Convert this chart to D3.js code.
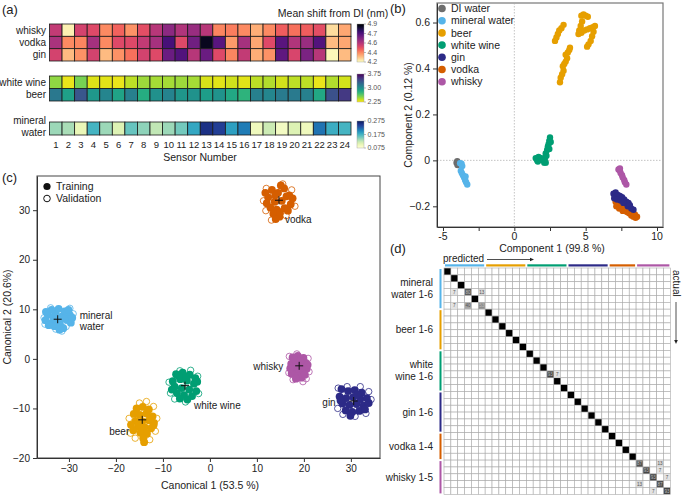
<!DOCTYPE html>
<html lang="en">
<head>
<meta charset="UTF-8">
<title>sensor array figure</title>
<style>
    body{margin:0;background:#fff;}
    svg{display:block;font-family:"Liberation Sans",Arial,Helvetica,sans-serif;}
    text{fill:#222;}
    .axis path,.axis line{stroke:#333;}
    .axis text{fill:#222;font-family:"Liberation Sans",Arial,sans-serif;}
</style>
</head>
<body>
<svg id="fig" width="683" height="496"></svg>
<script src="https://d3js.org/d3.v7.min.js"></script>
<script>
// ---------- (a) heatmap data: mean shift from DI (nm) per sensor ----------
const sensors = [1,2,3,4,5,6,7,8,9,10,11,12,13,14,15,16,17,18,19,20,21,22,23,24];
const spiritNames = ["whisky","vodka","gin"];
const whisky = [4.53,4.22,4.50,4.48,4.37,4.43,4.36,4.47,4.55,4.62,4.56,4.60,4.55,4.38,4.39,4.37,4.32,4.37,4.44,4.41,4.44,4.47,4.25,4.33];
const vodka  = [4.57,4.37,4.38,4.58,4.37,4.48,4.48,4.53,4.58,4.74,4.48,4.67,4.86,4.71,4.35,4.58,4.33,4.48,4.71,4.56,4.60,4.72,4.30,4.33];
const gin    = [4.50,4.30,4.36,4.50,4.30,4.36,4.41,4.50,4.48,4.68,4.72,4.55,4.68,4.48,4.38,4.53,4.32,4.36,4.70,4.49,4.65,4.55,4.21,4.30];
const wbNames = ["white wine","beer"];
const whiteWine = [2.50,2.30,2.56,2.33,2.32,2.30,2.40,2.47,2.45,2.45,2.47,2.45,2.34,2.32,2.36,2.32,2.40,2.42,2.35,2.40,2.40,2.30,2.42,2.35];
const beerRow   = [3.15,2.90,3.35,2.95,3.07,2.88,3.10,2.82,3.00,3.08,2.96,2.99,2.92,2.98,2.85,2.78,3.10,3.06,3.13,3.14,3.10,2.85,3.38,3.50];
const mineralRow = [0.140,0.135,0.100,0.175,0.140,0.110,0.160,0.145,0.125,0.140,0.155,0.185,0.255,0.245,0.190,0.210,0.095,0.120,0.090,0.110,0.095,0.215,0.180,0.175];
const spiritTicks = [4.2,4.375,4.55,4.725,4.9];
const spiritTickLabels = ["4.2","4.4","4.6","4.7","4.9"];
const wbTicks = [2.25,3.0,3.75];
const wbTickLabels = ["2.25","3.00","3.75"];
const mwTicks = [0.075,0.175,0.275];
const mwTickLabels = ["0.075","0.175","0.275"];

// ---------- (b) PCA scores ----------
const pcaNames = ["DI water","mineral water","beer","white wine","gin","vodka","whisky"];
const pcaColors = ["#6d6d6d","#56b4e9","#e69f00","#009e73","#2c2a87","#d55e00","#ad57a6"];
const pcaDI = [[-4.05,-0.01],[-3.98,-0.02],[-3.92,-0.012],[-4.0,-0.004]];
const pcaMineral = [[-3.8,-0.012],[-3.7,-0.015],[-3.65,-0.025],[-3.75,-0.045],[-3.68,-0.055],[-3.6,-0.065],[-3.52,-0.075],[-3.45,-0.085],[-3.38,-0.095],[-3.3,-0.105],[-3.42,-0.07]];
const pcaBeer = [[2.85,0.52],[2.95,0.535],[3.05,0.55],[3.15,0.565],[3.3,0.575],[3.45,0.59],
    [4.7,0.63],[4.85,0.635],[5.0,0.63],[5.15,0.625],[4.75,0.605],[4.65,0.585],[4.55,0.565],[4.5,0.55],
    [4.7,0.555],[4.9,0.565],[5.1,0.57],[5.3,0.575],[5.5,0.58],[5.65,0.585],[5.55,0.56],[5.45,0.54],
    [5.35,0.52],[5.2,0.505],[5.1,0.495],
    [3.2,0.34],[3.25,0.36],[3.35,0.375],[3.45,0.39],[3.4,0.41],[3.5,0.42],[3.6,0.43],[3.7,0.445],
    [3.6,0.46],[3.75,0.47],[3.85,0.48],[3.9,0.49]];
const pcaWine = [[1.5,0.01],[1.6,0.0],[1.7,0.015],[1.8,0.005],[1.9,0.01],[2.0,0.0],[1.65,-0.005],[2.1,-0.01],
    [2.15,0.01],[2.2,0.03],[2.25,0.02],[2.3,0.045],[2.35,0.06],[2.4,0.07],[2.45,0.085],[2.5,0.1],
    [2.55,0.08],[2.45,0.05],[2.2,-0.01]];
const pcaVodka = [[7.1,-0.18],[7.15,-0.2],[7.3,-0.19],[7.35,-0.21],[7.55,-0.2],[7.6,-0.22],[7.75,-0.215],[7.9,-0.225],
    [8.05,-0.23],[8.2,-0.24],[8.35,-0.245],[8.5,-0.25],[8.6,-0.245],[8.45,-0.235]];
const pcaGin = [[6.95,-0.145],[7.1,-0.14],[7.25,-0.15],[7.4,-0.155],[7.55,-0.16],[7.0,-0.165],[7.2,-0.17],[7.45,-0.175],
    [7.7,-0.17],[7.85,-0.18],[8.0,-0.185],[7.65,-0.185],[7.95,-0.2],[8.1,-0.195],[8.2,-0.21],[8.35,-0.215]];
const pcaWhisky = [[7.3,-0.04],[7.4,-0.045],[7.45,-0.055],[7.55,-0.065],[7.6,-0.075],[7.7,-0.085],[7.75,-0.095],[7.85,-0.105],[7.4,-0.035]];
const pcaXTicks = [-5,-2.5,0,2.5,5,7.5,10];
const pcaXLabelled = [-5,0,5,10];
const pcaYTicks = [-0.2,0,0.2,0.4,0.6];

// ---------- (c) canonical scores ----------
const ldaNames = ["mineral water","vodka","whisky","white wine","gin","beer"];
const ldaColors = ["#56b4e9","#d55e00","#ad57a6","#009e73","#2c2a87","#e69f00"];
const ldaCentroids = [[-32.4,8.0],[14.7,32.0],[19.0,-1.4],[-5.3,-5.4],[30.6,-8.5],[-14.4,-12.3]];
const trainMineral = [[-34.5,8.9],[-33.8,7.2],[-32.9,9.4],[-31.6,8.5],[-30.4,7.9],[-29.8,8.8],[-33.1,6.6],[-31.9,6.9],[-35.0,7.8],[-32.2,10.1],[-30.9,9.6],[-33.7,9.9],[-29.6,7.3],[-31.2,6.2],[-34.3,6.8],[-32.6,7.8],[-30.1,9.9],[-33.3,8.4],[-31.0,8.1],[-32.0,5.9],[-34.9,9.5],[-29.3,8.3]];
const valMineral = [[-35.3,8.3],[-31.5,5.6],[-29.1,9.1],[-33.9,10.3],[-30.6,6.5],[-32.8,6.0],[-35.1,7.0],[-29.8,10.2]];
const trainVodka = [[13.2,34.1],[14.5,33.5],[15.8,34.4],[16.9,33.0],[12.4,32.6],[13.8,31.7],[15.3,31.9],[17.2,31.2],[12.9,30.5],[14.2,30.1],[15.9,30.4],[13.5,29.3],[14.8,28.7],[16.3,32.8],[12.1,31.4],[15.1,35.0],[13.9,33.0],[16.6,29.9],[14.0,28.2],[17.6,32.4],[11.8,33.5],[14.9,29.6]];
const valVodka = [[12.0,34.4],[17.4,34.1],[11.4,31.9],[18.1,30.8],[16.2,28.9],[13.1,28.0],[15.5,35.3],[11.9,29.9]];
const trainWhisky = [[17.6,0.3],[18.7,0.6],[19.9,0.2],[20.4,-0.8],[17.3,-1.0],[18.4,-1.2],[19.6,-1.6],[20.6,-2.0],[17.8,-2.2],[18.9,-2.6],[19.8,-2.9],[17.4,-3.0],[18.6,-3.5],[19.5,-3.8],[20.2,-3.2],[18.0,-0.1],[19.2,-0.4],[17.1,-1.9],[20.8,-1.2],[18.3,-4.0]];
const valWhisky = [[16.9,0.5],[20.9,0.1],[21.1,-2.6],[16.8,-2.8],[19.8,-4.6],[17.7,-4.2],[18.5,1.0],[20.5,-4.0]];
const trainWine = [[-7.2,-3.1],[-5.8,-2.8],[-4.3,-3.2],[-3.1,-3.9],[-7.9,-4.5],[-6.3,-4.1],[-4.9,-4.4],[-3.4,-5.0],[-7.5,-5.6],[-6.0,-5.9],[-4.4,-6.2],[-2.9,-6.5],[-7.0,-6.9],[-5.5,-7.3],[-3.8,-7.5],[-6.4,-8.0],[-4.8,-8.2],[-8.1,-6.2],[-5.1,-3.6],[-2.7,-4.6],[-6.7,-3.4]];
const valWine = [[-8.7,-4.7],[-8.4,-6.9],[-5.2,-8.7],[-2.4,-7.0],[-2.6,-3.5],[-6.4,-2.4],[-4.1,-2.3],[-7.5,-8.1]];
const trainGin = [[28.0,-6.1],[29.4,-6.5],[30.8,-6.3],[32.3,-6.8],[27.6,-7.6],[29.0,-7.9],[30.5,-7.7],[32.0,-8.1],[33.4,-7.9],[28.2,-9.0],[29.7,-9.3],[31.2,-9.1],[32.7,-9.4],[33.8,-8.9],[28.9,-10.4],[30.3,-10.7],[31.8,-10.5],[29.9,-11.5],[27.8,-8.4],[31.4,-7.2],[33.0,-10.2]];
const valGin = [[27.3,-5.9],[29.2,-5.6],[32.0,-5.6],[33.8,-6.6],[34.3,-8.2],[33.2,-11.0],[27.2,-10.0],[30.9,-11.6],[28.3,-11.2]];
const trainBeer = [[-15.6,-10.0],[-14.3,-9.7],[-13.0,-10.2],[-16.2,-11.1],[-14.9,-11.3],[-13.5,-11.0],[-12.2,-11.6],[-15.8,-12.5],[-14.4,-12.6],[-13.0,-12.4],[-11.9,-12.9],[-15.3,-13.6],[-13.9,-13.8],[-12.5,-14.0],[-16.3,-14.4],[-14.8,-14.9],[-13.4,-15.1],[-14.2,-16.0],[-14.0,-16.8],[-16.8,-13.3],[-12.0,-13.4]];
const valBeer = [[-15.0,-8.9],[-13.5,-8.6],[-12.0,-9.6],[-17.2,-12.0],[-11.3,-12.0],[-11.6,-14.6],[-16.9,-15.0],[-15.9,-16.0],[-12.8,-16.3]];
const ldaXTicks = [-30,-20,-10,0,10,20,30];
const ldaYTicks = [-20,-10,0,10,20,30];

// ---------- (d) confusion matrix (percent, actual row / predicted col) ----------
const groupLabels = [["mineral","water 1-6"],["beer 1-6"],["white","wine 1-6"],["gin 1-6"],["vodka 1-4"],["whisky 1-5"]];
const groupSizes = [6,6,6,6,4,5];
const groupColors = ["#56b4e9","#e69f00","#009e73","#2c2a87","#d55e00","#ad57a6"];
const offDiag = [[3,1,7],[3,3,80],[3,5,13],[5,1,7],[5,3,40],[5,5,53],[15,15,93],[15,16,7],
    [28,28,87],[28,31,13],[29,29,93],[29,31,7],[30,30,93],[30,32,7],[31,28,13],[31,31,87],[32,30,7],[32,32,93]];

const svg = d3.select("#fig");
const defs = svg.append("defs");

// ================= panel (a) =================
const pa = svg.append("g");
pa.append("text").attr("x",2).attr("y",14).attr("font-size",13).text("(a)");

const xa = d3.scaleBand().domain(sensors).range([49.5,351]);
const cl = t => Math.max(0,Math.min(1,t));
const magmaCol = v => d3.interpolateMagma(cl(1-(v-4.2)/0.7));
const viridisCol = v => d3.interpolateViridis(cl(1-(v-2.25)/1.5));
const ylgnbuCol = v => d3.interpolateYlGnBu(cl((v-0.075)/0.2));

function heatRows(names, rows, y0, y1, col){
    const y = d3.scaleBand().domain(names).range([y0,y1]);
    names.forEach((n,i)=>{
        pa.append("g").selectAll("rect").data(rows[i]).join("rect")
            .attr("x",(d,j)=>xa(sensors[j])).attr("y",y(n))
            .attr("width",xa.bandwidth()).attr("height",y.bandwidth())
            .attr("fill",col).attr("stroke","#1a1a1a").attr("stroke-width",0.8);
    });
    return y;
}
const ya1 = heatRows(spiritNames,[whisky,vodka,gin],24,61,magmaCol);
const ya2 = heatRows(wbNames,[whiteWine,beerRow],76,101,viridisCol);
const ya3 = heatRows(["mineral water"],[mineralRow],122,135,ylgnbuCol);

spiritNames.forEach(n=>pa.append("text").attr("x",46).attr("y",ya1(n)+ya1.bandwidth()/2)
    .attr("dy","0.35em").attr("text-anchor","end").attr("font-size",10).text(n));
wbNames.forEach(n=>pa.append("text").attr("x",46).attr("y",ya2(n)+ya2.bandwidth()/2)
    .attr("dy","0.35em").attr("text-anchor","end").attr("font-size",10).text(n));
["mineral","water"].forEach((t,i)=>pa.append("text").attr("x",46).attr("y",120+i*12.7)
    .attr("dy","0.35em").attr("text-anchor","end").attr("font-size",10).text(t));

pa.append("g").selectAll("text").data(sensors).join("text")
    .attr("x",d=>xa(d)+xa.bandwidth()/2).attr("y",145).attr("dy","0.35em")
    .attr("text-anchor","middle").attr("font-size",9.5).text(d=>d);
pa.append("text").attr("x",200).attr("y",161).attr("text-anchor","middle").attr("font-size",10.5).text("Sensor Number");
pa.append("text").attr("x",333).attr("y",17).attr("text-anchor","middle").attr("font-size",10.5).text("Mean shift from DI (nm)");

function colorbar(id, col, y0, y1, domain, ticks, labels){
    const grad = defs.append("linearGradient").attr("id",id)
        .attr("x1",0).attr("y1",1).attr("x2",0).attr("y2",0);
    d3.range(0,1.0001,0.05).forEach(t=>grad.append("stop").attr("offset",t)
        .attr("stop-color",col(domain[0]+t*(domain[1]-domain[0]))));
    pa.append("rect").attr("x",357).attr("y",y0).attr("width",7).attr("height",y1-y0)
        .attr("fill",`url(#${id})`).attr("stroke","#999").attr("stroke-width",0.4);
    const s = d3.scaleLinear(domain,[y1,y0]);
    ticks.forEach((t,i)=>{
        pa.append("line").attr("x1",364).attr("x2",366).attr("y1",s(t)).attr("y2",s(t)).attr("stroke","#777").attr("stroke-width",0.5);
        pa.append("text").attr("x",367.5).attr("y",s(t)).attr("dy","0.35em")
            .attr("font-size",7).style("fill","#555").text(labels[i]);
    });
}
colorbar("cb1",magmaCol,24,62,[4.2,4.9],spiritTicks,spiritTickLabels);
colorbar("cb2",viridisCol,74,102,[2.25,3.75],wbTicks,wbTickLabels);
colorbar("cb3",ylgnbuCol,121,148,[0.075,0.275],mwTicks,mwTickLabels);

// ================= panel (b) =================
const pb = svg.append("g");
pb.append("text").attr("x",390).attr("y",13).attr("font-size",13).text("(b)");
const xb = d3.scaleLinear([-5.42,10.42],[437,663]);
const yb = d3.scaleLinear([-0.29,0.685],[227,3]);

pb.append("rect").attr("x",437).attr("y",3).attr("width",226).attr("height",224)
    .attr("fill","none").attr("stroke","#777").attr("stroke-width",1.2);
pb.append("line").attr("x1",xb(0)).attr("x2",xb(0)).attr("y1",3).attr("y2",227)
    .attr("stroke","#aaa").attr("stroke-width",0.7).attr("stroke-dasharray","1.5,1.5");
pb.append("line").attr("x1",437).attr("x2",663).attr("y1",yb(0)).attr("y2",yb(0))
    .attr("stroke","#aaa").attr("stroke-width",0.7).attr("stroke-dasharray","1.5,1.5");

const pcaSets = [pcaDI,pcaMineral,pcaBeer,pcaWine,pcaGin,pcaVodka,pcaWhisky];
const drawOrder = [0,1,2,3,5,4,6];
drawOrder.forEach(i=>{
    pb.append("g").selectAll("circle").data(pcaSets[i]).join("circle")
        .attr("cx",d=>xb(d[0])).attr("cy",d=>yb(d[1])).attr("r",3.2)
        .attr("fill",pcaColors[i]);
});

// x axis: ticks every 2.5, labels only at the whole fives
const xAxisB = pb.append("g").attr("class","axis").attr("transform","translate(0,227)")
    .call(d3.axisBottom(xb).tickValues(pcaXTicks).tickFormat("").tickSize(4).tickSizeOuter(0))
    .call(g=>g.select(".domain").attr("stroke","#555"));
pb.append("g").selectAll("text").data(pcaXLabelled).join("text")
    .attr("x",d=>xb(d)).attr("y",240).attr("text-anchor","middle").attr("font-size",10.5).text(d=>d);
pb.append("g").attr("class","axis").attr("transform","translate(437,0)")
    .call(d3.axisLeft(yb).tickValues(pcaYTicks).tickFormat(d=>d===0?"0":d3.format(".1f")(d)).tickSize(4).tickSizeOuter(0))
    .call(g=>g.selectAll("text").attr("font-size",10.5))
    .call(g=>g.select(".domain").attr("stroke","#555"));
pb.append("text").attr("x",552).attr("y",252).attr("text-anchor","middle").attr("font-size",10.5).text("Component 1  (99.8 %)");
pb.append("text").attr("transform","translate(412,115) rotate(-90)").attr("text-anchor","middle")
    .attr("font-size",10.5).text("Component 2  (0.12 %)");

const legB = pb.append("g").selectAll("g").data(pcaNames).join("g")
    .attr("transform",(d,i)=>`translate(442,${8.5+i*12.2})`);
legB.append("circle").attr("r",3.8).attr("fill",(d,i)=>pcaColors[i]);
legB.append("text").attr("x",9).attr("dy","0.35em").attr("font-size",10.5).text(d=>d);

// ================= panel (c) =================
const pc = svg.append("g");
pc.append("text").attr("x",2).attr("y",182).attr("font-size",13).text("(c)");
const xc = d3.scaleLinear([-36.8,36.2],[37,380]);
const yc = d3.scaleLinear([-20,36.9],[458,176]);
pc.append("rect").attr("x",37).attr("y",176).attr("width",343).attr("height",282)
    .attr("fill","none").attr("stroke","#444").attr("stroke-width",1);

const trainSets = [trainMineral,trainVodka,trainWhisky,trainWine,trainGin,trainBeer];
const valSets = [valMineral,valVodka,valWhisky,valWine,valGin,valBeer];
ldaNames.forEach((n,i)=>{
    pc.append("g").selectAll("circle").data(valSets[i]).join("circle")
        .attr("cx",d=>xc(d[0])).attr("cy",d=>yc(d[1])).attr("r",3.2)
        .attr("fill","none").attr("stroke",ldaColors[i]).attr("stroke-width",0.8);
    pc.append("g").selectAll("circle").data(trainSets[i]).join("circle")
        .attr("cx",d=>xc(d[0])).attr("cy",d=>yc(d[1])).attr("r",3.9).attr("fill",ldaColors[i]);
});
pc.append("g").selectAll("path").data(ldaCentroids).join("path")
    .attr("d",d=>`M${xc(d[0])-4},${yc(d[1])}h8M${xc(d[0])},${yc(d[1])-4}v8`)
    .attr("stroke","#111").attr("stroke-width",1);

// label placement (pixel offsets from centroid)
const ldaLabelPos = [
    {lines:["mineral","water"], dx:22, dy:-4, anchor:"start"},
    {lines:["vodka"], dx:6, dy:19, anchor:"start"},
    {lines:["whisky"], dx:-16, dy:1, anchor:"end"},
    {lines:["white wine"], dx:9, dy:20, anchor:"start"},
    {lines:["gin"], dx:-18, dy:1, anchor:"end"},
    {lines:["beer"], dx:-13, dy:12, anchor:"end"}
];
ldaLabelPos.forEach((p,i)=>{
    const c = ldaCentroids[i];
    p.lines.forEach((t,k)=>pc.append("text").attr("x",xc(c[0])+p.dx).attr("y",yc(c[1])+p.dy+k*11.5)
        .attr("dy","0.35em").attr("text-anchor",p.anchor).attr("font-size",10).text(t));
});

pc.append("g").attr("class","axis").attr("transform","translate(0,458)")
    .call(d3.axisBottom(xc).tickValues(ldaXTicks).tickSize(4).tickSizeOuter(0))
    .call(g=>g.selectAll("text").attr("font-size",10));
pc.append("g").attr("class","axis").attr("transform","translate(37,0)")
    .call(d3.axisLeft(yc).tickValues(ldaYTicks).tickSize(4).tickSizeOuter(0))
    .call(g=>g.selectAll("text").attr("font-size",10));
pc.append("text").attr("x",210).attr("y",489).attr("text-anchor","middle").attr("font-size",10.5).text("Canonical 1 (53.5 %)");
pc.append("text").attr("transform","translate(11,317) rotate(-90)").attr("text-anchor","middle")
    .attr("font-size",10.5).text("Canonical 2 (20.6%)");
pc.append("circle").attr("cx",47).attr("cy",186.5).attr("r",3.6).attr("fill","#111");
pc.append("circle").attr("cx",47).attr("cy",198.5).attr("r",3.3).attr("fill","none").attr("stroke","#111").attr("stroke-width",1);
pc.append("text").attr("x",56).attr("y",186.5).attr("dy","0.35em").attr("font-size",10.5).text("Training");
pc.append("text").attr("x",56).attr("y",198.5).attr("dy","0.35em").attr("font-size",10.5).text("Validation");

// ================= panel (d) =================
const pd = svg.append("g");
pd.append("text").attr("x",390).attr("y",253).attr("font-size",13).text("(d)");
const nCls = d3.sum(groupSizes);
const idx = d3.range(nCls);
const xd = d3.scaleBand().domain(idx).range([444,670.4]);
const yd = d3.scaleBand().domain(idx).range([268,494.4]);
const bw = xd.bandwidth();

// full matrix: 100 on the diagonal unless a row has misclassifications
const cm = [];
idx.forEach(r=>{
    const rowEntries = offDiag.filter(e=>e[0]===r);
    if(rowEntries.length) rowEntries.forEach(e=>cm.push(e));
    else cm.push([r,r,100]);
});
const cells = [];
idx.forEach(r=>idx.forEach(c=>cells.push([r,c])));
pd.append("g").selectAll("rect").data(cells).join("rect")
    .attr("x",d=>xd(d[1])).attr("y",d=>yd(d[0])).attr("width",bw).attr("height",bw)
    .attr("fill","#fff").attr("stroke","#aaa").attr("stroke-width",0.6);
const grey = d3.scaleLinear([7,99,100],["#e2e2e2","#3a3a3a","#000"]);
pd.append("g").selectAll("rect").data(cm).join("rect")
    .attr("x",d=>xd(d[1])+0.3).attr("y",d=>yd(d[0])+0.3).attr("width",bw-0.6).attr("height",bw-0.6)
    .attr("fill",d=>grey(d[2]));
pd.append("g").selectAll("text").data(cm.filter(d=>d[2]<100)).join("text")
    .attr("x",d=>xd(d[1])+bw/2).attr("y",d=>yd(d[0])+bw/2).attr("dy","0.35em")
    .attr("text-anchor","middle").attr("font-size",4.6)
    .style("fill",d=>d[2]>50?"#bbb":"#555").text(d=>d[2]);

// group bars and labels
let start = 0;
groupSizes.forEach((n,i)=>{
    const a = start, b = start+n-1;
    pd.append("rect").attr("x",xd(a)+1).attr("y",264.3).attr("width",xd(b)+bw-xd(a)-2).attr("height",2.2).attr("fill",groupColors[i]);
    pd.append("rect").attr("x",439.5).attr("y",yd(a)+1).attr("width",2).attr("height",yd(b)+bw-yd(a)-2).attr("fill",groupColors[i]);
    const cy = (yd(a)+yd(b)+bw)/2;
    const lines = groupLabels[i];
    lines.forEach((t,k)=>pd.append("text").attr("x",433).attr("y",cy+(k-(lines.length-1)/2)*12)
        .attr("dy","0.35em").attr("text-anchor","end").attr("font-size",10).text(t));
    start += n;
});
pd.append("text").attr("x",443).attr("y",262).attr("font-size",10).text("predicted");
pd.append("line").attr("x1",487).attr("x2",531).attr("y1",259.5).attr("y2",259.5).attr("stroke","#222").attr("stroke-width",0.8);
pd.append("path").attr("d","M534,259.5l-4,-1.8v3.6z").attr("fill","#222");
pd.append("text").attr("transform","translate(676,270) rotate(90)").attr("dy","0.35em").attr("font-size",10).text("actual");
pd.append("line").attr("x1",676).attr("x2",676).attr("y1",302).attr("y2",341).attr("stroke","#222").attr("stroke-width",0.8);
pd.append("path").attr("d","M676,344l-1.8,-4h3.6z").attr("fill","#222");
</script>
</body>
</html>
